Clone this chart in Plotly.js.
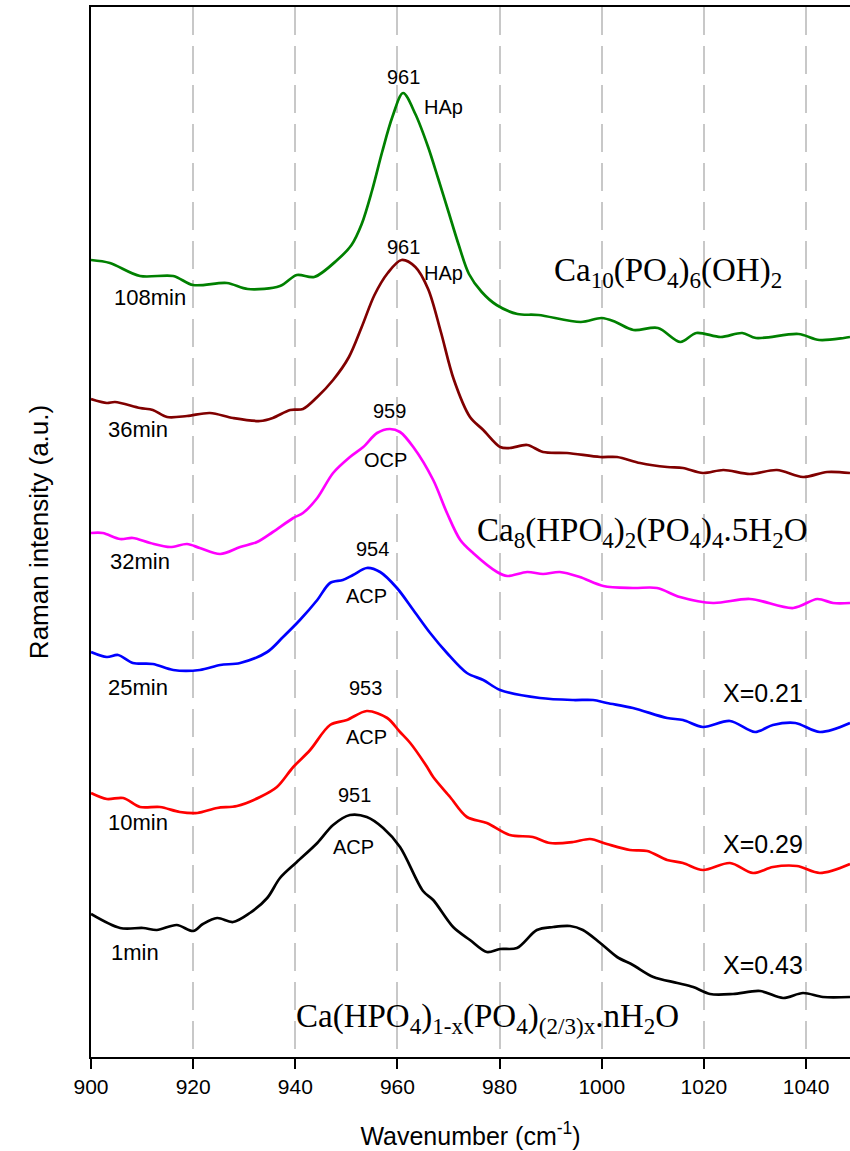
<!DOCTYPE html>
<html>
<head>
<meta charset="utf-8">
<script src="https://cdn.plot.ly/plotly-3.0.1.min.js"></script>
<style>html,body{margin:0;padding:0;background:#fff;}#chart{width:850px;height:1151px;}</style>
</head>
<body>
<div id="chart"></div>
<script>
// Raman spectra (wavenumber cm-1, stacked intensity a.u.)
const wn108 = [900.0,903.7,909.6,916.1,920.0,926.6,930.7,937.0,940.3,943.7,948.2,951.0,953.0,955.0,957.0,959.0,961.1,963.5,966.0,968.0,970.0,972.0,974.0,976.5,979.4,983.5,987.6,995.9,1000.0,1002.7,1006.2,1011.0,1015.4,1018.5,1023.3,1027.5,1030.2,1038.5,1042.6,1047.4,1048.6];
const int108 = [797,794,781,781,772,774,768,771,782,780,797,812,833,866,905,940,964,943,910,878,845,812,783,765,752,743,742,735,739,735,727,729,715,724,720,724,719,723,717,719,720];

const wn36 = [900.0,903.1,904.7,909.6,912.1,914.9,918.8,923.3,927.8,933.1,935.6,939.0,941.5,944.3,947.4,950.5,953.0,955.5,958.1,960.8,963.5,966.0,968.5,971.0,974.2,976.8,980.1,982.0,985.4,988.5,993.2,999.7,1003.0,1007.5,1012.8,1015.9,1019.8,1023.8,1029.0,1034.3,1039.4,1044.1,1048.6];
const int36 = [658,654,655,649,647,640,641,644,639,636,639,647,648,660,677,700,730,762,784,797,790,768,725,678,640,627,610,609,612,605,604,600,600,594,590,589,584,587,583,587,580,585,584];

const wn32 = [900.0,902.3,905.7,908.2,911.6,915.5,918.8,921.3,925.3,929.2,932.5,935.6,939.6,941.5,944.3,947.4,950.7,953.3,956.0,958.5,960.5,963.1,967.0,969.7,972.3,974.8,979.5,981.5,985.4,988.5,991.8,995.7,1000.3,1006.1,1010.8,1015.3,1021.8,1029.0,1037.5,1042.2,1045.3,1048.6];
const int32 = [524,524,518,519,514,510,513,509,503,510,515,525,539,544,559,584,600,610,624,628,625,610,577,544,517,504,485,481,485,483,485,480,471,469,469,460,454,458,449,458,454,454];

const wn25 = [900.0,903.1,905.3,908.2,912.1,916.1,921.3,925.3,929.2,934.5,937.6,940.9,944.3,946.8,949.3,951.3,954.0,956.6,959.9,963.1,966.4,969.7,973.6,976.8,980.1,987.9,994.4,998.3,1001.0,1006.1,1012.8,1015.9,1019.8,1025.1,1030.0,1033.5,1037.9,1042.7,1048.6];
const int25 = [405,400,402,394,393,387,387,392,394,405,420,437,457,474,477,482,489,485,469,447,424,404,384,377,367,359,357,357,354,349,339,337,330,336,325,332,334,325,334];

const wn10 = [900.0,903.1,906.3,909.6,913.5,917.4,920.8,924.7,928.6,933.1,936.4,939.6,942.9,946.8,950.1,954.0,958.0,960.5,962.5,965.8,967.0,970.3,973.6,977.5,982.0,986.5,989.9,994.4,997.7,1001.0,1005.5,1008.9,1012.8,1015.9,1019.8,1025.1,1029.6,1033.5,1038.2,1042.7,1048.6];
const int10 = [264,258,259,250,250,245,244,249,251,260,270,290,307,332,337,346,339,325,314,290,280,260,240,234,222,220,214,215,218,213,207,206,197,194,187,194,184,190,191,184,193];

const wn1 = [900.0,905.7,910.2,912.9,916.8,920.0,921.9,924.7,927.8,931.1,934.5,937.0,940.3,944.3,947.4,950.7,954.0,957.2,960.5,965.0,967.0,970.9,974.2,977.5,980.1,983.4,987.3,990.5,993.8,996.3,999.7,1003.0,1006.1,1010.1,1014.8,1017.9,1021.2,1025.7,1031.0,1035.5,1039.4,1043.3,1048.6];
const int1 = [143,129,129,127,132,126,133,139,135,144,159,179,195,214,232,242,240,229,210,166,157,130,117,105,108,109,127,130,131,127,114,100,92,80,74,70,63,63,66,59,64,60,60];

const seriesNames = ['108min','36min','32min','25min','10min','1min'];
const seriesColors = ['#008000','#800000','#ff00ff','#0000ff','#ff0000','#000000'];
const seriesX = [wn108, wn36, wn32, wn25, wn10, wn1];
const seriesY = [int108, int36, int32, int25, int10, int1];

const tickVals = [900,920,940,960,980,1000,1020,1040];

// text labels
const labelText = ['961','HAp','961','HAp','108min','36min','959','OCP','32min','954','ACP','25min','X=0.21','953','ACP','10min','X=0.29','951','ACP','1min','X=0.43'];
const labelX = [961.2,969.1,961.2,969.1,911.6,909.2,958.5,957.6,909.6,955.2,954.0,909.2,1031.6,953.7,954.0,909.2,1031.6,951.5,951.3,908.6,1031.6];
const labelY = [980,950,810,784,760,628,646,597,496,508,461,370,364,369,320,235,213,262,210,105,92];
const labelSize = [20,20,20,20,22,22,20,20,22,20,20,22,25,20,20,22,25,20,20,22,25];

const formulaText = ['Ca<sub>10</sub>(PO<sub>4</sub>)<sub>6</sub>(OH)<sub>2</sub>',
  'Ca<sub>8</sub>(HPO<sub>4</sub>)<sub>2</sub>(PO<sub>4</sub>)<sub>4</sub>.5H<sub>2</sub>O',
  'Ca(HPO<sub>4</sub>)<sub>1-x</sub>(PO<sub>4</sub>)<sub>(2/3)x</sub>.nH<sub>2</sub>O'];
const formulaX = [1012.9,1007.9,977.6];
const formulaY = [785,525,39];

const traces = seriesNames.map((n,i)=>({
  type:'scatter', mode:'lines', name:n,
  x: seriesX[i], y: seriesY[i],
  line:{color:seriesColors[i], width:2.7, shape:'spline', smoothing:0.9},
  hoverinfo:'skip'
}));

const annotations = [];
labelText.forEach((t,i)=>annotations.push({
  text:t, x:labelX[i], y:labelY[i], xref:'x', yref:'y', showarrow:false,
  font:{family:'Arial, Liberation Sans, sans-serif', size:labelSize[i], color:'#000'},
  xanchor:'center', yanchor:'middle'
}));
formulaText.forEach((t,i)=>annotations.push({
  text:t, x:formulaX[i], y:formulaY[i], xref:'x', yref:'y', showarrow:false,
  font:{family:'Times New Roman, Liberation Serif, serif', size:33, color:'#000'},
  xanchor:'center', yanchor:'middle'
}));

const layout = {
  width:850, height:1151,
  margin:{l:91, r:0, t:7, b:94},
  paper_bgcolor:'#fff', plot_bgcolor:'#fff',
  showlegend:false,
  font:{family:'Arial, Liberation Sans, sans-serif', color:'#000'},
  xaxis:{
    range:[900,1048.6], tickvals:tickVals, ticks:'outside', ticklen:10, tickwidth:2, tickcolor:'#000',
    showline:true, linewidth:2, linecolor:'#000', mirror:true,
    showgrid:true, gridcolor:'#c8c8c8', gridwidth:2, griddash:'28px,11px',
    zeroline:false, tickfont:{size:21, color:'#000'},
    title:{text:'Wavenumber (cm<sup>-1</sup>)', font:{size:25, color:'#000'}, standoff:30}
  },
  yaxis:{
    range:[0,1050], showticklabels:false, ticks:'', showgrid:false, zeroline:false,
    showline:true, linewidth:2, linecolor:'#000',
    title:{text:'Raman intensity (a.u.)', font:{size:26, color:'#000'}, standoff:33}
  },
  annotations:annotations
};

Plotly.newPlot('chart', traces, layout, {staticPlot:true, displayModeBar:false});
</script>
</body>
</html>
